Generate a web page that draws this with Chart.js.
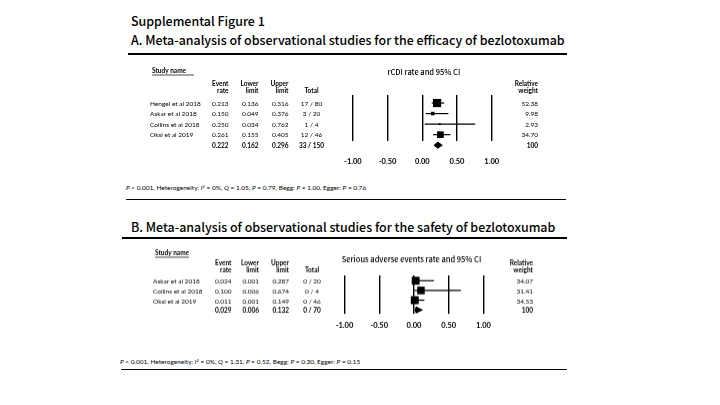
<!DOCTYPE html>
<html>
<head>
<meta charset="utf-8">
<script src="https://cdn.jsdelivr.net/npm/chart.js@4.4.0/dist/chart.umd.min.js"></script>
<style>
    body { margin: 0; width: 720px; height: 405px; background: #fff; position: relative; overflow: hidden; font-family: Lato, sans-serif; color: #000; }
    .naslov { position: absolute; left: 131px; font-family: "Noto Sans CJK JP"; font-weight: 500; font-size: 13px; line-height: 1; white-space: nowrap; }
    .crta { position: absolute; background: #000; }
    .opomba { position: absolute; font-size: 6.5px; line-height: 1; white-space: nowrap; }
    .opomba sup { font-size: 4px; line-height: 0; vertical-align: 2px; }
    .okvir { position: absolute; left: 130px; width: 450px; }
</style>
</head>
<body>
<div class="naslov" style="top:15px">Supplemental Figure 1</div>
<div class="naslov" id="naslovA" style="top:34px">A. Meta-analysis of observational studies for the efficacy of bezlotoxumab</div>
<div class="crta" style="left:128px;width:439px;top:53px;height:2px"></div>
<div class="okvir" style="top:60px;height:122px"><canvas id="grafA"></canvas></div>
<div class="opomba" style="left:126px;top:185px"><i>P</i> &lt; 0.001, Heterogeneity: <i>I</i><sup>2</sup> = 0%, <i>Q</i> = 1.05, <i>P</i> = 0.79, Begg: <i>P</i> = 1.00, Egger: <i>P</i> = 0.76</div>
<div class="crta" style="left:126px;width:440px;top:199px;height:1.3px"></div>

<div class="naslov" style="top:221px">B. Meta-analysis of observational studies for the safety of bezlotoxumab</div>
<div class="crta" style="left:122px;width:445px;top:237px;height:2px"></div>
<div class="okvir" style="top:240px;height:95.6px"><canvas id="grafB"></canvas></div>
<div class="opomba" style="left:120px;top:359px"><i>P</i> &lt; 0.001, Heterogeneity: <i>I</i><sup>2</sup> = 0%, <i>Q</i> = 1.31, <i>P</i> = 0.52, Begg: <i>P</i> = 0.30, Egger: <i>P</i> = 0.15</div>
<div class="crta" style="left:121px;width:446px;top:369px;height:1.3px"></div>

<script>
// os x, skupna za oba grafa
const tick_vrednosti = [-1, -0.5, 0, 0.5, 1];
const tick_oznake = ['-1.00', '-0.50', '0.00', '0.50', '1.00'];

// A: rCDI
const studije_A = ['Hengel et al 2018', 'Askar et al 2018', 'Collins et al 2018', 'Oksi et al 2019'];
const stopnja_A = [0.213, 0.150, 0.250, 0.261];
const spodnja_A = [0.136, 0.049, 0.034, 0.155];
const zgornja_A = [0.316, 0.376, 0.762, 0.405];
const skupaj_A = ['17 / 80', '3 / 20', '1 / 4', '12 / 46'];
const utez_A = [52.38, 9.98, 2.93, 34.70];
const povzetek_A = [0.222, 0.162, 0.296];   // stopnja, spodnja, zgornja
const povzetek_skupaj_A = '33 / 150';
const utez_skupaj_A = '100';

// B: resni nezeleni dogodki
const studije_B = ['Askar et al 2018', 'Collins et al 2018', 'Oksi et al 2019'];
const stopnja_B = [0.024, 0.100, 0.011];
const spodnja_B = [0.001, 0.006, 0.001];
const zgornja_B = [0.287, 0.674, 0.149];
const skupaj_B = ['0 / 20', '0 / 4', '0 / 46'];
const utez_B = [34.07, 31.41, 34.53];
const povzetek_B = [0.029, 0.006, 0.132];
const povzetek_skupaj_B = '0 / 70';
const utez_skupaj_B = '100';

const barva = '#000';
const pisava = 'Lato';
const vel_pisave = 6.5;

// naslovi: sirina kot na sliki
const faktor = 434 / document.getElementById('naslovA').getBoundingClientRect().width;
document.querySelectorAll('.naslov').forEach(e => { e.style.fontSize = (13 * faktor) + 'px'; });

const tabela = {
    id: 'tabela',
    afterDatasetsDraw(chart, args, o) {
        const c = chart.ctx;
        const x = chart.scales.x, y = chart.scales.y;
        const n = o.studije.length;
        c.save();
        c.fillStyle = barva;
        c.strokeStyle = barva;

        // romb za povzetek
        const yc = y.getPixelForValue(n);
        c.beginPath();
        c.moveTo(x.getPixelForValue(o.povzetek[1]), yc);
        c.lineTo(x.getPixelForValue(o.povzetek[0]), yc - o.romb);
        c.lineTo(x.getPixelForValue(o.povzetek[2]), yc);
        c.lineTo(x.getPixelForValue(o.povzetek[0]), yc + o.romb);
        c.closePath();
        c.fill();

        c.textBaseline = 'middle';
        const f = (b) => (b ? 'bold ' : '') + vel_pisave + 'px ' + pisava;
        const k = o.stolpci;
        for (let i = 0; i <= n; i++) {
            const yy = y.getPixelForValue(i) + o.zamik;
            const zadnja = i === n;
            c.font = f(zadnja);
            if (!zadnja) {
                c.textAlign = 'left';
                c.fillText(o.studije[i], k.ime, yy);
            }
            c.textAlign = 'right';
            c.fillText((zadnja ? o.povzetek[0] : o.stopnja[i]).toFixed(3), k.stopnja, yy);
            c.fillText((zadnja ? o.povzetek[1] : o.spodnja[i]).toFixed(3), k.spodnja, yy);
            c.fillText((zadnja ? o.povzetek[2] : o.zgornja[i]).toFixed(3), k.zgornja, yy);
            c.fillText(zadnja ? o.utez_skupaj : o.utez[i].toFixed(2), k.utez, yy);
            c.textAlign = 'center';
            c.fillText(zadnja ? o.povzetek_skupaj : o.skupaj[i], k.skupaj, yy);
        }

        // glava
        const y2 = y.getPixelForValue(0) + o.glava2;
        const y1 = y2 - 7;
        c.font = f(true);
        c.textAlign = 'right';
        c.fillText('Event', k.stopnja, y1);
        c.fillText('rate', k.stopnja, y2);
        c.fillText('Lower', k.spodnja, y1);
        c.fillText('limit', k.spodnja, y2);
        c.fillText('Upper', k.zgornja, y1);
        c.fillText('limit', k.zgornja, y2);
        c.fillText('Relative', k.utez, y1);
        c.fillText('weight', k.utez, y2);
        c.textAlign = 'center';
        c.fillText('Total', k.skupaj, y2);

        c.textAlign = 'left';
        c.fillText('Study name', k.ime + 2, o.ime_y);
        const w = c.measureText('Study name').width + o.podcrta;
        c.lineWidth = 0.7;
        c.beginPath();
        c.moveTo(k.ime + 2, o.ime_y + 4);
        c.lineTo(k.ime + 2 + w, o.ime_y + 4);
        c.stroke();

        c.font = '500 7.5px "Noto Sans CJK JP"';
        c.textAlign = 'center';
        c.fillText(o.naslov, x.getPixelForValue(0) + o.naslov_dx, o.naslov_y);
        c.restore();
    }
};

function narisi_gozd(id, p) {
    const brki = p.studije.map((s, i) => ({
        data: [{ x: p.spodnja[i], y: i }, { x: p.zgornja[i], y: i }],
        showLine: true,
        borderColor: barva,
        borderWidth: 1.2,
        pointRadius: 0,
        clip: false
    }));
    const kvadrati = {
        data: p.stopnja.map((v, i) => ({ x: v, y: i })),
        pointStyle: 'rect',
        pointRadius: p.utez.map(u => p.k * Math.sqrt(u) / Math.SQRT2),
        backgroundColor: barva,
        borderWidth: 0,
        clip: false
    };
    return new Chart(document.getElementById(id).getContext('2d'), {
        type: 'scatter',
        data: { datasets: brki.concat([kvadrati]) },
        options: {
            responsive: true,
            maintainAspectRatio: false,
            animation: false,
            events: [],
            layout: { padding: p.odmik },
            plugins: {
                legend: { display: false },
                tooltip: { enabled: false },
                tabela: p
            },
            scales: {
                x: {
                    type: 'linear',
                    min: -1,
                    max: 1,
                    afterBuildTicks: s => { s.ticks = tick_vrednosti.map(v => ({ value: v })); },
                    ticks: {
                        padding: p.tick_odmik,
                        color: barva,
                        font: { family: pisava, size: 7.5, weight: 'bold' },
                        callback: (v, i) => tick_oznake[i]
                    },
                    grid: { display: true, color: barva, lineWidth: 1.4, drawTicks: false },
                    border: { display: false }
                },
                y: {
                    type: 'linear',
                    display: false,
                    reverse: true,
                    min: p.y_min,
                    max: p.y_max
                }
            }
        },
        plugins: [tabela]
    });
}

const graf_A = narisi_gozd('grafA', {
    studije: studije_A, stopnja: stopnja_A, spodnja: spodnja_A, zgornja: zgornja_A,
    skupaj: skupaj_A, utez: utez_A, povzetek: povzetek_A,
    povzetek_skupaj: povzetek_skupaj_A, utez_skupaj: utez_skupaj_A,
    naslov: 'rCDI rate and 95% CI',
    k: 1.13, romb: 3.6, zamik: 0.5,
    y_min: -0.76, y_max: 3.6,
    odmik: { left: 222.9, right: 88.3, top: 35, bottom: 0 },
    tick_odmik: 16,
    stolpci: { ime: 20, stopnja: 98.5, spodnja: 128.5, zgornja: 158.5, skupaj: 181.5, utez: 408 },
    glava2: -12, ime_y: 11, podcrta: 8, naslov_y: 12, naslov_dx: 1.5
});

const graf_B = narisi_gozd('grafB', {
    studije: studije_B, stopnja: stopnja_B, spodnja: spodnja_B, zgornja: zgornja_B,
    skupaj: skupaj_B, utez: utez_B, povzetek: povzetek_B,
    povzetek_skupaj: povzetek_skupaj_B, utez_skupaj: utez_skupaj_B,
    naslov: 'Serious adverse events rate and 95% CI',
    k: 1.35, romb: 3.6, zamik: 1,
    y_min: -0.55, y_max: 3.4,
    odmik: { left: 214.5, right: 96.5, top: 35, bottom: 0 },
    tick_odmik: 6.8,
    stolpci: { ime: 23, stopnja: 101.5, spodnja: 129, zgornja: 159, skupaj: 182, utez: 403 },
    glava2: -10, ime_y: 13, podcrta: 0, naslov_y: 19, naslov_dx: -2.5
});
</script>
</body>
</html>
